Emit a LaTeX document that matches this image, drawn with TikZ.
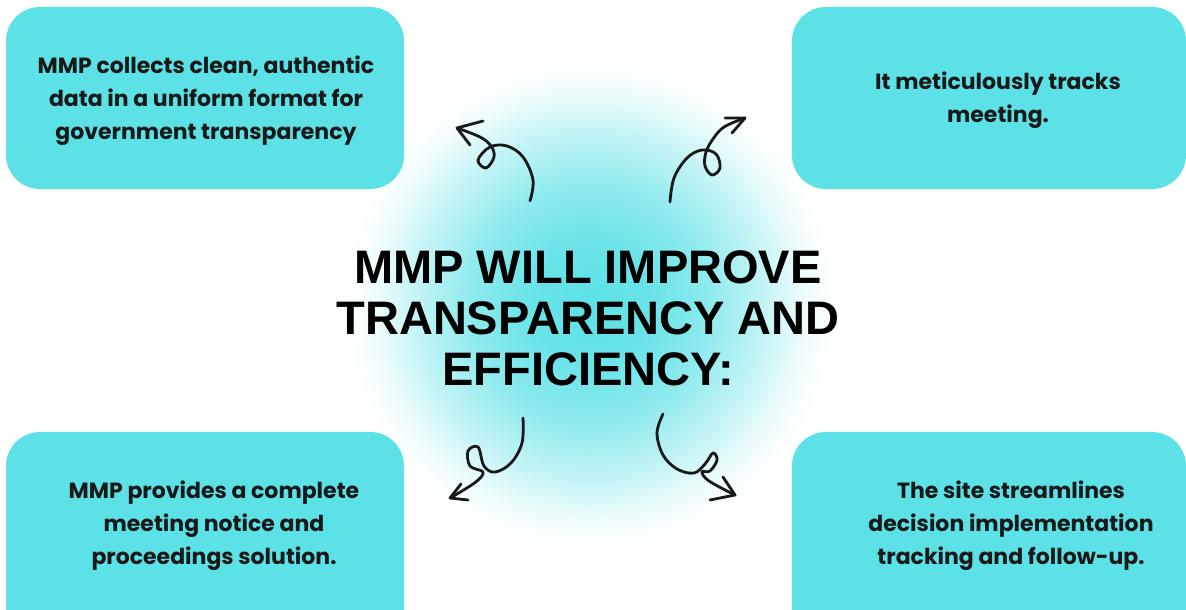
\documentclass[tikz,border=0pt]{standalone}
\usepackage{fontspec}
\setmainfont{Poppins}
\newfontfamily\titlefont{Liberation Sans}
\definecolor{boxcyan}{HTML}{5CE1E6}
\definecolor{glowcyan}{HTML}{5CE1E6}
\pgfdeclareradialshading{glow}{\pgfpoint{0bp}{0bp}}{color(0bp)=(glowcyan); color(6bp)=(glowcyan!92!white); color(12bp)=(glowcyan!70!white); color(18bp)=(glowcyan!35!white); color(22bp)=(glowcyan!10!white); color(25bp)=(white); color(50bp)=(white)}
\begin{document}
\begin{tikzpicture}[x=1pt,y=-1pt,
  infobox/.style={fill=boxcyan, draw=none, rounded corners=34pt},
  infotext/.style={align=center, font=\bfseries\fontsize{22}{33}\selectfont, text=black!90},
  curl/.style={line width=2.8pt, line cap=round, line join=round, black!90},
  titletext/.style={align=center, font=\titlefont\bfseries\fontsize{47}{51}\selectfont, text=black}]
\useasboundingbox (0,0) rectangle (1186,610);
\begin{scope}
\clip (0,0) rectangle (1186,610);
\fill[white] (0,0) rectangle (1186,610);
\shade[shading=glow] (590,305) circle[radius=245];
\fill[infobox] (6,7) rectangle (404,189);
\fill[infobox] (792,7) rectangle (1186,189);
\fill[infobox] (6,432) rectangle (404,650);
\fill[infobox] (792,432) rectangle (1186,650);
\end{scope}
\node[infotext] (tl) at (206,101) {MMP collects clean, authentic\\data in a uniform format for\\government transparency};
\node[infotext] (tr) at (998,100) {It meticulously tracks\\meeting.};
\node[infotext] (bl) at (214,526) {MMP provides a complete\\meeting notice and\\proceedings solution.};
\node[infotext] (br) at (1011,526) {The site streamlines\\decision implementation\\tracking and follow-up.};
\node[titletext] (title) at (588,318) {MMP WILL IMPROVE\\TRANSPARENCY AND\\EFFICIENCY:};
% top-left curl
\coordinate (a1) at (457,128);
\draw[curl] plot[smooth, tension=0.6] coordinates {(530,201) (533,180) (523,157) (507,146) (490,147) (478,160) (486,168) (494,157) (491,146) (480,137) (457,128)};
\draw[curl] (483,121) -- (a1) -- (470,145);
% top-right curl
\coordinate (a2) at (745,118);
\draw[curl] plot[smooth, tension=0.6] coordinates {(670,202) (674,178) (687,158) (702,150) (716,154) (720,168) (712,175) (705,166) (706,152) (713,139) (724,127) (745,118)};
\draw[curl] (725,118) -- (a2) -- (732,133);
% bottom-left curl
\coordinate (a3) at (450,498);
\draw[curl] plot[smooth, tension=0.6] coordinates {(523,418) (522,443) (511,463) (495,472) (484,466) (478,447) (468,451) (470,466) (483,472) (477,481) (462,491) (450,498)};
\draw[curl] (468,500) -- (a3) -- (461,484);
% bottom-right curl
\coordinate (a4) at (735,495);
\draw[curl] plot[smooth, tension=0.6] coordinates {(663,414) (657,433) (663,455) (677,469) (694,473) (705,464) (713,453) (717,460) (710,471) (702,472) (709,481) (735,495)};
\draw[curl] (710,500) -- (a4) -- (723,477);
\end{tikzpicture}
\end{document}
